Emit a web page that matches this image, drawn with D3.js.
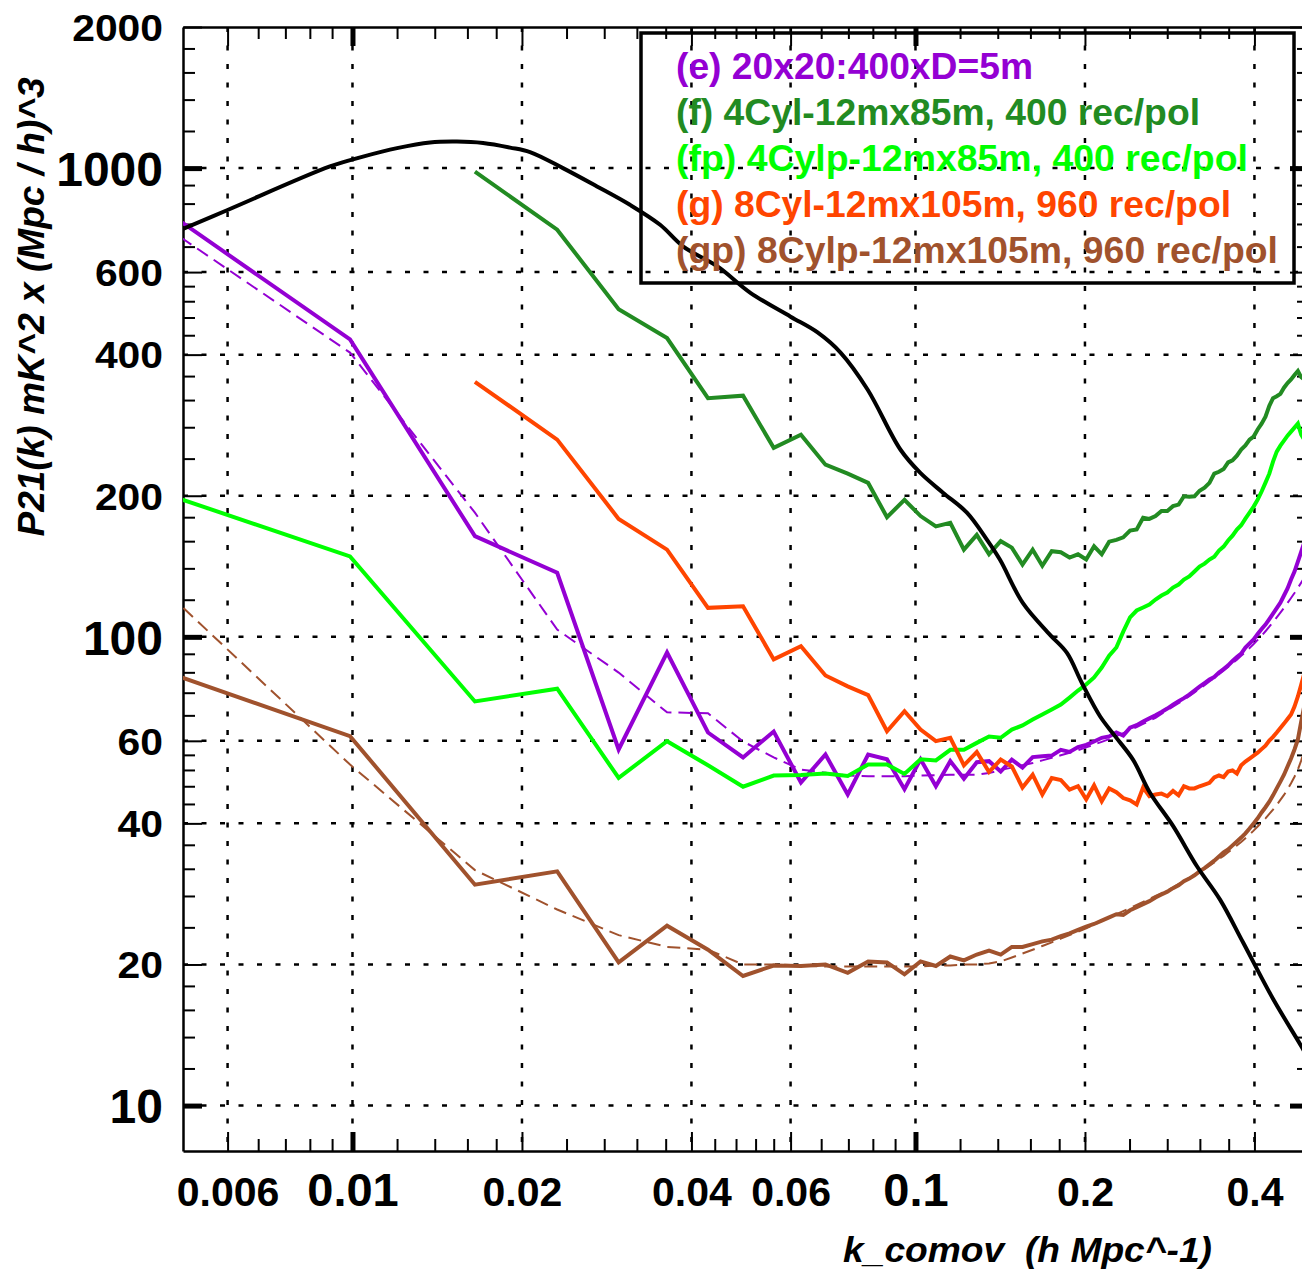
<!DOCTYPE html>
<html><head><meta charset="utf-8">
<script src="https://cdn.jsdelivr.net/npm/d3@7"></script>
<style>body{margin:0;background:#fff} svg{display:block}</style>
</head><body><svg id="chart" width="1302" height="1272"></svg>
<script>
// ---------------- DATA ----------------
const kValues = [0.0033,0.0099,0.0165,0.0231,0.0297,0.0362,0.0428,0.0494,0.0560,0.0626,
0.0692,0.0758,0.0824,0.0890,0.0956,0.1021,0.1087,0.1153,0.1219,0.1285,
0.1351,0.1417,0.1483,0.1549,0.1615,0.1680,0.1746,0.1812,0.1878,0.1944,
0.2010,0.2076,0.2142,0.2208,0.2274,0.2339,0.2405,0.2471,0.2537,0.2603,
0.2669,0.2735,0.2801,0.2867,0.2933,0.2998,0.3064,0.3130,0.3196,0.3262,
0.3328,0.3394,0.3460,0.3526,0.3592,0.3657,0.3723,0.3789,0.3855,0.3921,
0.3987,0.4053,0.4119,0.4185,0.4251,0.4316,0.4382,0.4448,0.4514,0.4580,
0.4646,0.4712,0.4778,0.4844,0.4910];

// (e) 20x20:400xD=5m  (solid)
const seriesE = [1080,431,164,137,57.5,92.6,62.5,55.3,62.8,48.9,
56.1,46.1,56.1,54.8,47.3,54.8,48.0,54.3,49.8,54.0,
54.3,51.6,54.7,52.6,55.4,55.6,55.8,57.4,56.8,58.2,
58.8,59.8,60.9,61.3,62.5,61.6,64.0,64.8,66.0,67.0,
68.0,69.1,70.3,71.7,72.9,74.0,75.3,76.8,78.3,79.7,
81.1,82.1,83.9,85.4,86.9,88.8,90.6,92.1,94.9,96.8,
98.7,101.4,103.9,106.2,109.1,112.1,115.2,118.3,122.5,126.8,
132.5,137.8,144.7,152,159.6];
// (e) dashed companion curve
const fitE = [992,404,184,103.6,83.9,69.0,68.7,59.8,55.3,52.1,
51.3,50.6,50.4,50.4,50.4,50.6,50.7,50.8,50.8,50.8,
51.2,52.0,52.6,53.2,53.8,54.5,55.2,55.9,56.6,57.3,
58.1,58.9,59.7,60.5,61.4,62.3,63.2,64.2,65.2,66.2,
67.2,68.5,69.7,71.0,72.2,73.4,74.7,76.1,77.5,78.9,
80.3,81.7,83.2,84.7,86.2,87.8,89.4,91.1,92.8,94.6,
96.5,98.5,100.6,102.8,105.1,107.5,110.0,112.6,115.3,118.1,
121.0,124.0,127.2,130.5,134];
// (f) 4Cyl-12mx85m
const seriesF = [null,null,983,739,500,434,323,327,253,270,
233,223,213,180,196,181,172,175,153.5,165,
150,160,155,142.6,153.5,141.8,152.3,151.5,147.6,150,
146.2,156,150,159.6,161,163,168.5,169.5,179.5,178.5,
181,185.6,185.6,190,191.5,199.5,199,199.5,205,208,
213,223,225,228,235.6,238,243.5,251,256,263.5,
267.5,277,285,295,311,323,326,330,340,348,
354,362,369,358,354];
// (fp) 4Cylp-12mx85m
const seriesFP = [232,148.5,72.8,77.5,50.0,59.9,53.2,47.9,50.6,50.7,
51.1,50.5,53.4,53.4,51.0,54.8,54.5,57.4,57.4,59.4,
61.3,60.9,63.4,64.7,66.6,68.3,70.0,71.7,74.2,76.8,
79.1,81.9,86.0,91.2,94.9,102.6,110.0,113.8,115.5,117.2,
120.1,122.5,124.3,127.4,129.3,132.5,134.5,137.8,141.2,143.3,
146.2,148.3,152.8,155.8,160.5,164.4,169.4,173,178.7,184,
189.6,196.2,204.2,213.3,222.9,236.5,248.4,255.8,262.1,268.6,
274,279.4,285,270,263];
// (g) 8Cyl-12mx105m
const seriesG = [null,null,350,263.5,178.5,153.5,115.3,116.2,89.5,95.5,
82.7,78.4,75.1,62.9,69.4,63.4,59.9,60.9,53.2,56.8,
51.5,54.7,52.9,47.7,50.8,46.1,50.0,49.5,47.2,48.0,
45.0,48.2,44.6,47.5,46.6,45.3,44.8,43.9,47.7,45.7,
46.1,46.3,45.7,46.9,45.9,48.0,47.5,47.5,48.0,48.4,
48.8,50.1,50.6,50.2,51.6,51.9,51.1,53.2,54.2,55.0,
55.8,56.6,57.6,58.6,60.1,61.2,62.5,63.9,65.3,66.8,
68.3,71.0,74.6,79.1,83.9];
// (gp) 8Cylp-12mx105m (solid)
const seriesGP = [97.3,61.4,29.6,31.6,20.2,24.2,21.5,18.9,19.9,19.85,
20.0,19.2,20.3,20.2,19.05,20.3,19.85,20.8,20.4,21.0,
21.4,21.0,21.8,21.8,22.1,22.4,22.6,23.0,23.3,23.7,
24.1,24.4,24.8,25.2,25.6,25.5,26.1,26.5,26.9,27.3,
27.8,28.2,28.6,29.1,29.5,30.1,30.5,31.0,31.6,32.1,
32.7,33.3,34.0,34.7,35.2,35.9,36.6,37.3,38.1,39.0,
40.0,41.0,42.2,43.3,44.5,45.9,47.5,49.1,50.8,52.9,
55.0,57.5,60.4,66.0,71.7];
// (gp) dashed companion curve
const fitGP = [184.5,53.4,31.8,26.2,23.1,21.8,21.5,20.0,20.0,19.9,
19.8,19.8,19.8,19.8,19.8,19.8,19.9,19.9,20.0,20.0,
20.1,20.3,20.7,21.1,21.5,21.9,22.3,22.7,23.1,23.5,
23.9,24.3,24.8,25.2,25.6,26.0,26.4,26.8,27.2,27.6,
28.0,28.4,28.8,29.2,29.7,30.1,30.6,31.0,31.5,32.0,
32.5,33.0,33.6,34.1,34.7,35.3,35.9,36.5,37.2,37.9,
38.6,39.4,40.2,41.0,41.9,42.8,43.8,44.9,46.0,47.3,
48.7,50.3,52.1,54.5,57.5];

// theory curve (black)
const theoryK = [0.005,0.006,0.00912,0.01044,0.012,0.01373,0.01533,0.01706,0.01905,0.02067,
0.02365,0.02718,0.0311,0.03519,0.0387,0.0445,0.0509,0.060,0.067,0.0736,
0.0822,0.094,0.1019,0.1119,0.1234,0.134,0.1413,0.1552,0.1734,0.1858,
0.1975,0.2127,0.2262,0.2434,0.2609,0.2867,0.3162,0.3475,0.3817,0.4315,
0.486,0.5];
const theoryP = [742,814,1008,1058,1103,1134,1139,1131,1106,1082,
1000,914,835,757,680,617,542,482,446,404,
337,251,224,203,184,161,146,118,101,92.4,
79.7,67.7,61.4,54.7,46.5,39.5,32.4,27.5,22.3,16.9,
13.3,12.5];

const xLabelTicks = [0.006,0.01,0.02,0.04,0.06,0.1,0.2,0.4];
const xBigTicks = [0.01,0.1];
const xMinorTicks = [0.0068,0.0076,0.0084,0.0092,0.012,0.014,0.016,0.018,
0.024,0.028,0.032,0.036,0.044,0.048,0.052,0.056,0.068,0.076,0.084,0.092,
0.12,0.14,0.16,0.18,0.24,0.28,0.32,0.36];
const yLabelTicks = [10,20,40,60,100,200,400,600,1000,2000];
const yBigTicks = [10,100,1000];
const yMinorTicks = [12,14,16,18,24,28,32,36,44,48,52,56,68,76,84,92,
120,140,160,180,240,280,320,360,440,480,520,560,680,760,840,920,1200,1400,1600,1800];

const legendLabels = ["(e) 20x20:400xD=5m","(f) 4Cyl-12mx85m, 400 rec/pol",
"(fp) 4Cylp-12mx85m, 400 rec/pol","(g) 8Cyl-12mx105m, 960 rec/pol","(gp) 8Cylp-12mx105m, 960 rec/pol"];
const legendColors = ["#9400d3","#228b22","#00ff00","#ff4500","#a0522d"];
const legendWidths = [357,524,572,555,602];

const xTitle = "k_comov  (h Mpc^-1)";
const yTitle = "P21(k) mK^2 x (Mpc / h)^3";

// ---------------- DRAW ----------------
const FONT = '"Liberation Sans", Arial, Helvetica, sans-serif';
const L=183, R=1309, T=27, B=1151;
const svg = d3.select('#chart').attr('font-family', FONT);
svg.append('rect').attr('width',1302).attr('height',1272).attr('fill','#fff');

const x = d3.scaleLog().domain([0.005,0.5]).range([L,R]);
const y = d3.scaleLog().domain([8,2000]).range([B,T]);

svg.append('defs').append('clipPath').attr('id','plotclip')
  .append('rect').attr('x',L).attr('y',T).attr('width',R-L).attr('height',B-T);

// grid
const grid = svg.append('g').attr('stroke','#000').attr('stroke-width',2.5)
  .attr('stroke-dasharray','5,13.5').attr('fill','none');
grid.selectAll('line.gh').data(yLabelTicks.filter(v=>v<2000)).join('line').attr('class','gh')
  .attr('x1',L).attr('x2',R).attr('y1',d=>y(d)).attr('y2',d=>y(d));
grid.selectAll('line.gv').data(xLabelTicks).join('line').attr('class','gv')
  .attr('y1',T).attr('y2',B).attr('x1',d=>x(d)).attr('x2',d=>x(d));

// axes
function styleAxis(g, bigList){
  g.attr('font-family', FONT);
  g.select('.domain').attr('stroke','#000').attr('stroke-width',2.5);
  g.selectAll('.tick line').attr('stroke','#000')
    .attr('stroke-width', d => bigList && bigList.includes(d) ? 5 : 2);
}
function minor(axisGen, tr){
  const g = svg.append('g').attr('transform',tr).call(axisGen.tickSize(-12).tickSizeOuter(0).tickFormat(''));
  g.select('.domain').remove();
  g.selectAll('.tick line').attr('stroke','#000').attr('stroke-width',2);
}
minor(d3.axisBottom(x).tickValues(xMinorTicks), `translate(0,${B})`);
minor(d3.axisTop(x).tickValues(xMinorTicks), `translate(0,${T})`);
minor(d3.axisLeft(y).tickValues(yMinorTicks), `translate(${L},0)`);
minor(d3.axisRight(y).tickValues(yMinorTicks), `translate(${R},0)`);

const gB = svg.append('g').attr('transform',`translate(0,${B})`)
  .call(d3.axisBottom(x).tickValues(xLabelTicks).tickSize(-19).tickSizeOuter(0).tickFormat(d=>String(d)));
styleAxis(gB, xBigTicks);
gB.selectAll('.tick text').attr('y',55).attr('dy',null).attr('fill','#000')
  .attr('font-weight','bold').attr('font-size', d => xBigTicks.includes(d) ? 47 : 41);

const gT = svg.append('g').attr('transform',`translate(0,${T})`)
  .call(d3.axisTop(x).tickValues(xLabelTicks).tickSize(-19).tickSizeOuter(0).tickFormat(''));
styleAxis(gT, xBigTicks);

const gL = svg.append('g').attr('transform',`translate(${L},0)`)
  .call(d3.axisLeft(y).tickValues(yLabelTicks).tickSize(-19).tickSizeOuter(0).tickPadding(20).tickFormat(d=>String(d)));
styleAxis(gL, yBigTicks);
gL.selectAll('.tick text').attr('dy','0.36em').attr('fill','#000').attr('font-weight','bold')
  .attr('font-size', d => yBigTicks.includes(d) ? 48 : 37)
  .each(function(d){
    if(!yBigTicks.includes(d)){
      d3.select(this).attr('textLength', String(d).length*22.7).attr('lengthAdjust','spacingAndGlyphs');
    }
  });

const gR = svg.append('g').attr('transform',`translate(${R},0)`)
  .call(d3.axisRight(y).tickValues(yLabelTicks).tickSize(-19).tickSizeOuter(0).tickFormat(''));
styleAxis(gR, yBigTicks);

// data lines
const plot = svg.append('g').attr('clip-path','url(#plotclip)');
function pts(vals){ return kValues.map((k,i)=>({k:k, v:vals[i]})); }
const line = d3.line().defined(d=>d.v!=null).x(d=>x(d.k)).y(d=>y(d.v));
const layers = [
  {vals: seriesE, color:'#9400d3', w:4},
  {vals: fitE, color:'#9400d3', w:2, dash:'13,7'},
  {vals: seriesF, color:'#228b22', w:4},
  {vals: seriesFP, color:'#00ff00', w:4},
  {vals: seriesG, color:'#ff4500', w:4},
  {vals: seriesGP, color:'#a0522d', w:4},
  {vals: fitGP, color:'#a0522d', w:2, dash:'13,7'}
];
plot.selectAll('path.series').data(layers).join('path').attr('class','series')
  .attr('d', d=>line(pts(d.vals))).attr('fill','none')
  .attr('stroke', d=>d.color).attr('stroke-width', d=>d.w)
  .attr('stroke-dasharray', d=>d.dash || null)
  .attr('stroke-linejoin','miter').attr('stroke-miterlimit',3);

const theoryLine = d3.line().curve(d3.curveCatmullRom.alpha(0.5)).x(d=>x(d.k)).y(d=>y(d.v));
plot.append('path').datum(theoryK.map((k,i)=>({k:k, v:theoryP[i]})))
  .attr('d', theoryLine).attr('fill','none').attr('stroke','#000').attr('stroke-width',4);

// legend
svg.append('rect').attr('x',641).attr('y',33).attr('width',653).attr('height',250)
  .attr('fill','none').attr('stroke','#000').attr('stroke-width',3.5);
svg.append('g').selectAll('text').data(legendLabels).join('text')
  .attr('x',676).attr('y',(d,i)=>79 + i*46)
  .attr('font-size',36).attr('font-weight','bold')
  .attr('fill',(d,i)=>legendColors[i])
  .attr('textLength',(d,i)=>legendWidths[i]).attr('lengthAdjust','spacingAndGlyphs')
  .text(d=>d);

// axis titles
svg.append('text').attr('x',843).attr('y',1262).style('white-space','pre')
  .attr('font-size',35).attr('font-weight','bold').attr('font-style','italic')
  .attr('textLength',369).attr('lengthAdjust','spacingAndGlyphs').text(xTitle);
svg.append('text').attr('transform','translate(44,307) rotate(-90)').attr('text-anchor','middle')
  .attr('font-size',36).attr('font-weight','bold').attr('font-style','italic')
  .attr('textLength',459).attr('lengthAdjust','spacingAndGlyphs').text(yTitle);
</script></body></html>
